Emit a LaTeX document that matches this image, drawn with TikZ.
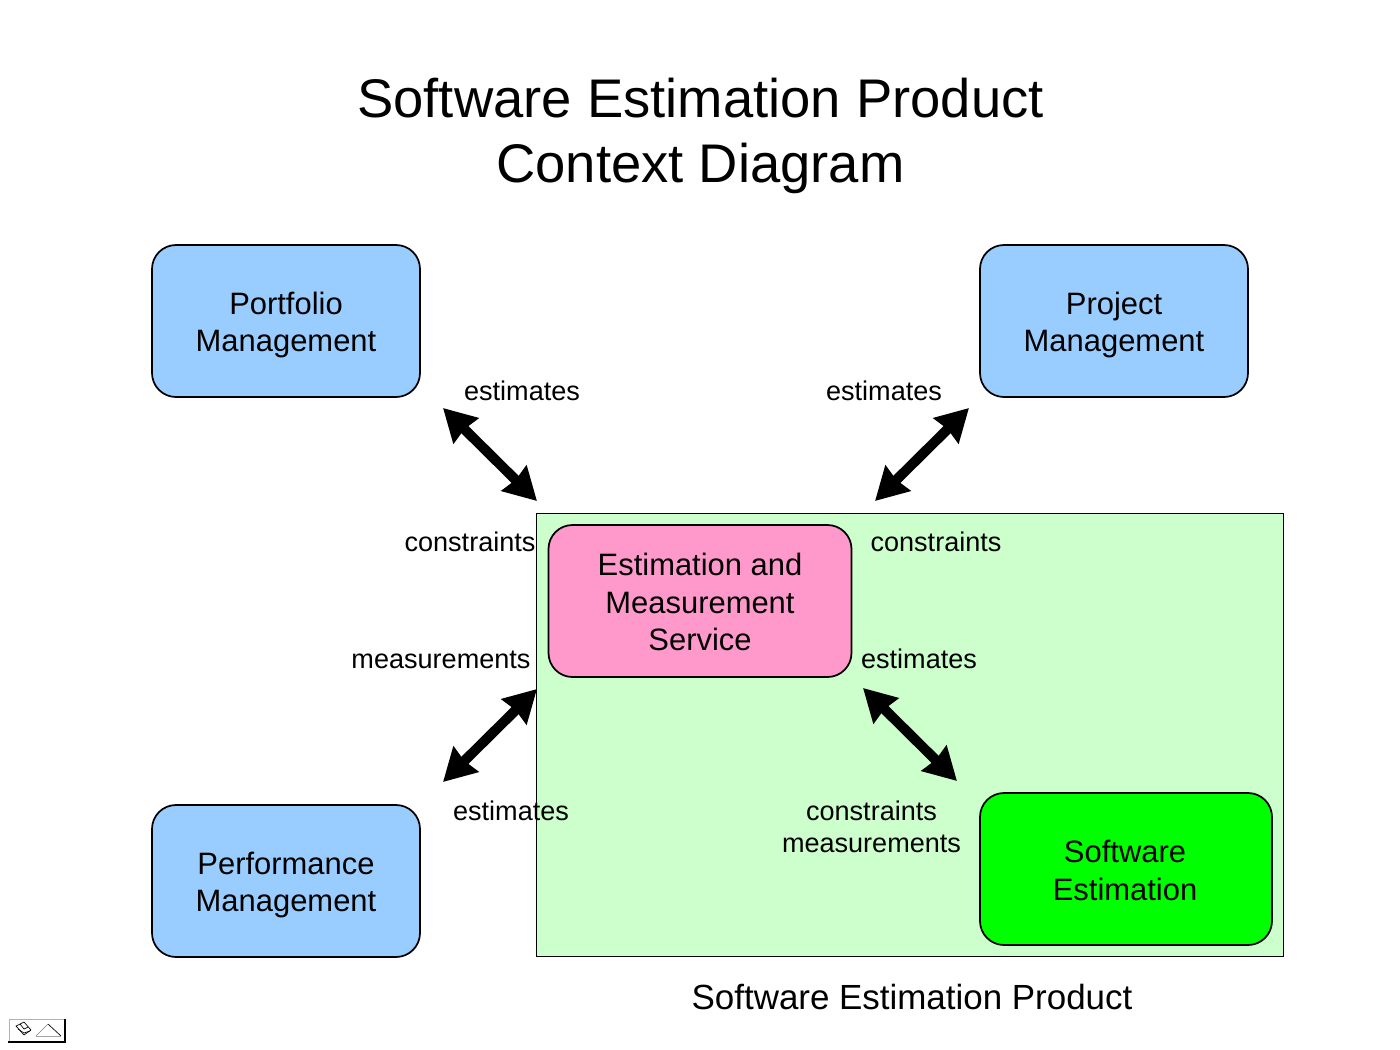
\documentclass[tikz,border=0pt]{standalone}
\usepackage{fontspec}
\setmainfont{Liberation Sans}
\usetikzlibrary{arrows.meta}
\definecolor{bluebox}{HTML}{99CCFF}
\definecolor{pinkbox}{HTML}{FF99CC}
\definecolor{greenbox}{HTML}{00FF00}
\definecolor{product}{HTML}{CCFFCC}
\tikzset{
  x=0.75pt,y=-0.75pt,
  box/.style={draw=black,line width=1.3pt,rounded corners=18pt,inner sep=0pt,minimum height=114pt},
  boxtext/.style={inner sep=0pt,align=center,font=\fontsize{23.2}{28.2}\selectfont},
  lab/.style={inner sep=0pt,align=center,font=\fontsize{20.3}{24.2}\selectfont},
  flow/.style={line width=7.5pt,{Stealth[length=24pt,width=26pt,inset=1.5pt]}-{Stealth[length=24pt,width=26pt,inset=1.5pt]}},
}
\begin{document}
\begin{tikzpicture}
\useasboundingbox (0,0) rectangle (1400,1050);
\fill[white] (0,0) rectangle (1400,1050);
\node[inner sep=0pt,align=center,font=\fontsize{40.8}{48.7}\selectfont] (title) at (700.5,136.3) {Software Estimation Product\\Context Diagram};

\node[draw=black,line width=0.6pt,fill=product,minimum width=747*0.75pt,minimum height=443*0.75pt,inner sep=0pt] (prod) at (910,735) {};
\node[inner sep=0pt,font=\fontsize{26.2}{30}\selectfont] (prodlab) at (912,997) {Software Estimation Product};

\node[box,fill=bluebox,minimum width=201pt] (pm) at (286,321) {};
\node[boxtext] (pmt) at (286,325) {Portfolio\\Management};
\node[box,fill=bluebox,minimum width=201pt] (proj) at (1114,321) {};
\node[boxtext] (projt) at (1114,325) {Project\\Management};
\node[box,fill=bluebox,minimum width=201pt] (perf) at (286,881) {};
\node[boxtext] (perft) at (286,885) {Performance\\Management};
\node[box,fill=pinkbox,minimum width=227.25pt] (ems) at (700,601) {};
\node[boxtext] (emst) at (700,602) {Estimation and\\Measurement\\Service};
\node[box,fill=greenbox,minimum width=219pt] (se) at (1126,869) {};
\node[boxtext] (set) at (1125,870.5) {Software\\Estimation};

\node[lab] (l1) at (522,391) {estimates};
\node[lab] (l2) at (884,391) {estimates};
\node[lab] (l3) at (470,542) {constraints};
\node[lab] (l4) at (936,542) {constraints};
\node[lab] (l5) at (441,660) {measurements};
\node[lab] (l6) at (919,659) {estimates};
\node[lab] (l7) at (511,811) {estimates};
\node[lab] (l8) at (871.5,827) {constraints\\measurements};

\coordinate (a1) at (443,408); \coordinate (a2) at (537,501);
\coordinate (b1) at (969,408); \coordinate (b2) at (875,501);
\coordinate (c1) at (537,689); \coordinate (c2) at (443,782);
\coordinate (d1) at (863,688); \coordinate (d2) at (957,781);
\draw[flow] (a1) -- (a2);
\draw[flow] (b1) -- (b2);
\draw[flow] (c1) -- (c2);
\draw[flow] (d1) -- (d2);

% status icon, bottom left
\fill[white] (9,1019) rectangle (65,1042);
\draw[gray!60,line width=0.75pt] (9,1042) -- (9,1019) -- (64,1019);
\draw[black,line width=1.5pt] (65,1019) -- (65,1042) -- (8,1042);
\draw[black,line width=0.5pt] (16,1026) -- (24,1022) -- (31,1030) -- (24,1035) -- cycle;
\draw[black,line width=0.5pt] (20,1024) -- (24,1029) -- (28,1027) (18,1029) -- (24,1033) -- (30,1031);
\draw[gray,line width=0.5pt] (36,1036) -- (48,1024);
\draw[black,line width=0.5pt] (48,1024) -- (61,1036);
\draw[gray!70,line width=0.5pt] (36,1036) -- (61,1036);
\end{tikzpicture}
\end{document}
